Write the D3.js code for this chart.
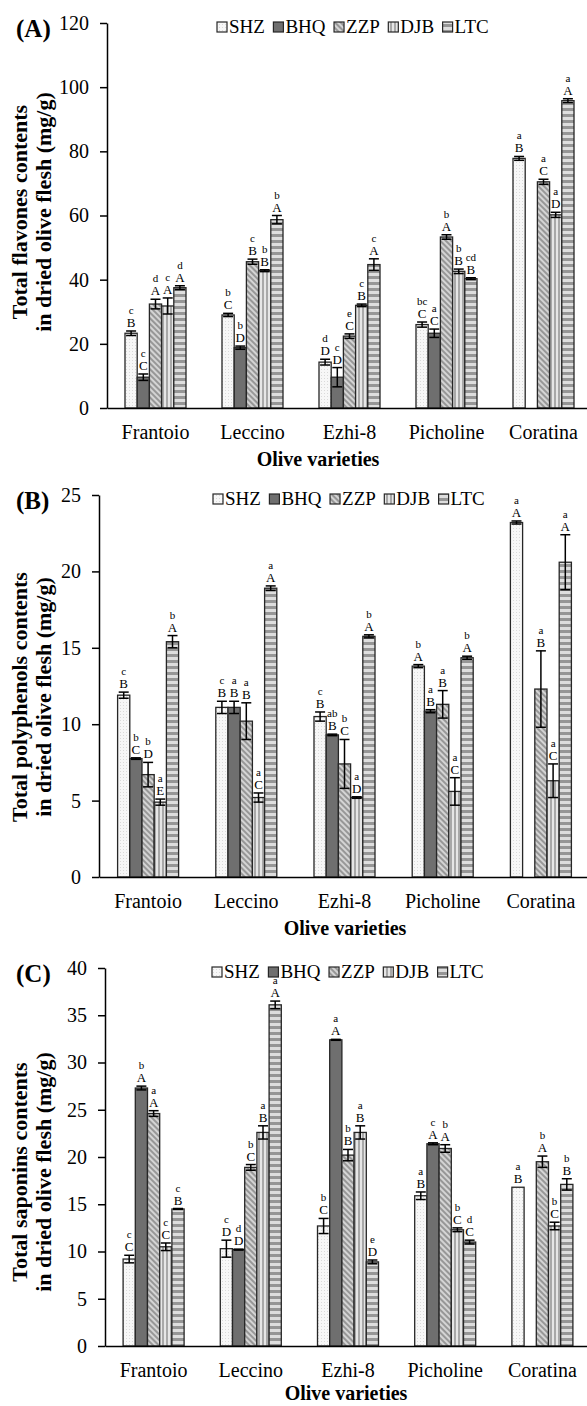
<!DOCTYPE html>
<html>
<head>
<meta charset="utf-8">
<script src="https://cdn.jsdelivr.net/npm/d3@7"></script>
<style>
  body { margin: 0; background: #fff; }
  text { font-family: "Liberation Serif", "Times New Roman", serif; }
</style>
</head>
<body>
<div id="chart"></div>
<script>
const varieties = ["Frantoio", "Leccino", "Ezhi-8", "Picholine", "Coratina"];
const cultivars = ["SHZ", "BHQ", "ZZP", "DJB", "LTC"];

// (A) flavones, rows = cultivars, columns = varieties
const flavonesMean = [
  [23.3, 29.0, 14.3, 26.0, 77.8],
  [9.6, 18.8, 9.6, 23.3, null],
  [32.4, 45.6, 22.4, 53.3, 70.5],
  [31.8, 42.8, 32.0, 42.6, 60.2],
  [37.5, 58.7, 44.7, 40.3, 95.8],
];
const flavonesErr = [
  [0.7, 0.5, 0.9, 0.8, 0.6],
  [1.0, 0.5, 3.0, 1.3, null],
  [1.5, 0.8, 0.7, 0.7, 0.8],
  [2.5, 0.3, 0.4, 0.7, 0.8],
  [0.6, 1.3, 1.8, 0.3, 0.6],
];
const flavonesLower = [
  ["c", "b", "d", "bc", "a"],
  ["c", "b", "c", "a", ""],
  ["d", "c", "e", "b", "a"],
  ["c", "b", "c", "b", "a"],
  ["d", "b", "c", "cd", "a"],
];
const flavonesUpper = [
  ["B", "C", "D", "C", "B"],
  ["C", "D", "D", "C", ""],
  ["A", "B", "C", "A", "C"],
  ["A", "B", "B", "B", "D"],
  ["A", "A", "A", "B", "A"],
];
const flavonesTicks = [0, 20, 40, 60, 80, 100, 120];

// (B) polyphenols
const polyMean = [
  [11.9, 11.1, 10.5, 13.8, 23.2],
  [7.75, 11.1, 9.3, 10.85, null],
  [6.7, 10.2, 7.4, 11.3, 12.3],
  [4.9, 5.2, 5.2, 5.6, 6.3],
  [15.4, 18.9, 15.75, 14.35, 20.6],
];
const polyErr = [
  [0.2, 0.4, 0.3, 0.1, 0.1],
  [0.05, 0.4, 0.05, 0.1, null],
  [0.8, 1.2, 1.6, 0.9, 2.5],
  [0.2, 0.3, 0.05, 0.9, 1.1],
  [0.4, 0.15, 0.1, 0.1, 1.8],
];
const polyLower = [
  ["c", "c", "c", "b", "a"],
  ["b", "a", "ab", "a", ""],
  ["b", "a", "b", "a", "a"],
  ["a", "a", "a", "a", "a"],
  ["b", "a", "b", "b", "a"],
];
const polyUpper = [
  ["B", "B", "B", "A", "A"],
  ["C", "B", "B", "B", ""],
  ["D", "B", "C", "B", "B"],
  ["E", "C", "D", "C", "C"],
  ["A", "A", "A", "A", "A"],
];
const polyTicks = [0, 5, 10, 15, 20, 25];

// (C) saponins
const saponinMean = [
  [9.2, 10.3, 12.7, 15.9, 16.8],
  [27.3, 10.2, 32.4, 21.4, null],
  [24.6, 18.9, 20.2, 20.9, 19.5],
  [10.5, 22.6, 22.6, 12.3, 12.7],
  [14.5, 36.1, 8.9, 11.0, 17.1],
];
const saponinErr = [
  [0.4, 0.9, 0.8, 0.4, 0],
  [0.2, 0.05, 0.05, 0.1, null],
  [0.3, 0.3, 0.6, 0.4, 0.6],
  [0.4, 0.7, 0.7, 0.2, 0.4],
  [0.05, 0.4, 0.2, 0.2, 0.6],
];
const saponinLower = [
  ["c", "c", "b", "a", "a"],
  ["b", "d", "a", "c", ""],
  ["a", "b", "b", "b", "b"],
  ["c", "a", "a", "b", "b"],
  ["c", "a", "e", "d", "b"],
];
const saponinUpper = [
  ["C", "D", "C", "B", "B"],
  ["A", "D", "A", "A", ""],
  ["A", "C", "B", "A", "A"],
  ["C", "B", "B", "C", "C"],
  ["B", "A", "D", "C", "B"],
];
const saponinTicks = [0, 5, 10, 15, 20, 25, 30, 35, 40];

const panels = [
  { label: "(A)", title: ["Total flavones contents", "in dried olive flesh (mg/g)"],
    mean: flavonesMean, err: flavonesErr, lower: flavonesLower, upper: flavonesUpper, ticks: flavonesTicks,
    left: 107, top: 23, bottom: 408, band: 97, legendX: 217, xTitleX: 318, xTitleDy: 58, titleY: 212 },
  { label: "(B)", title: ["Total polyphenols contents", "in dried olive flesh (mg/g)"],
    mean: polyMean, err: polyErr, lower: polyLower, upper: polyUpper, ticks: polyTicks,
    left: 99, top: 495, bottom: 877, band: 98.2, legendX: 213, xTitleX: 345, xTitleDy: 58, titleY: 697 },
  { label: "(C)", title: ["Total saponins contents", "in dried olive flesh (mg/g)"],
    mean: saponinMean, err: saponinErr, lower: saponinLower, upper: saponinUpper, ticks: saponinTicks,
    left: 105, top: 968, bottom: 1346, band: 97.2, legendX: 212, xTitleX: 346, xTitleDy: 54, titleY: 1172 },
];

const svg = d3.select("#chart").append("svg").attr("width", 587).attr("height", 1406);
const defs = svg.append("defs");

// fill patterns, one per cultivar
function pattern(id, w, h, rot) {
  const p = defs.append("pattern")
    .attr("id", id)
    .attr("patternUnits", "userSpaceOnUse")
    .attr("width", w)
    .attr("height", h);
  if (rot) p.attr("patternTransform", `rotate(${rot})`);
  return p;
}
let p = pattern("pSHZ", 3, 3);
p.append("rect").attr("width", 3).attr("height", 3).attr("fill", "#f7f7f7");
p.append("rect").attr("width", 1).attr("height", 1).attr("fill", "#dadada");
p = pattern("pZZP", 4, 4, -45);
p.append("rect").attr("width", 4).attr("height", 4).attr("fill", "#d4d4d4");
p.append("rect").attr("width", 2).attr("height", 4).attr("fill", "#979797");
p = pattern("pDJB", 4, 4);
p.append("rect").attr("width", 4).attr("height", 4).attr("fill", "#e6e6e6");
p.append("rect").attr("x", 2).attr("width", 2).attr("height", 4).attr("fill", "#a8a8a8");
p = pattern("pLTC", 6, 6);
p.append("rect").attr("width", 6).attr("height", 6).attr("fill", "#dedede");
p.append("rect").attr("width", 6).attr("height", 3).attr("fill", "#969696");

const fills = {
  SHZ: "url(#pSHZ)",
  BHQ: "#6f6f6f",
  ZZP: "url(#pZZP)",
  DJB: "url(#pDJB)",
  LTC: "url(#pLTC)",
};

function drawPanel(pn) {
  const x = d3.scaleBand().domain(varieties).range([pn.left, pn.left + 5 * pn.band]);
  const xs = d3.scaleBand().domain(cultivars).range([-30.5, 30.5]);
  const y = d3.scaleLinear()
    .domain([0, pn.ticks[pn.ticks.length - 1]])
    .range([pn.bottom, pn.top]);

  const g = svg.append("g");

  // bars
  cultivars.forEach((c, i) => {
    varieties.forEach((v, j) => {
      const m = pn.mean[i][j];
      if (m == null) return;
      const e = pn.err[i][j];
      const bx = x(v) + x.bandwidth() / 2 + xs(c);
      const cx = bx + xs.bandwidth() / 2;
      g.append("rect")
        .attr("x", bx)
        .attr("y", y(m))
        .attr("width", xs.bandwidth())
        .attr("height", y(0) - y(m))
        .attr("fill", fills[c])
        .attr("stroke", "#262626")
        .attr("stroke-width", 1.3);
      if (e > 0) {
        const eb = g.append("g").attr("stroke", "#000").attr("stroke-width", 1.5);
        eb.append("line").attr("x1", cx).attr("x2", cx).attr("y1", y(m - e)).attr("y2", y(m + e));
        eb.append("line").attr("x1", cx - 5).attr("x2", cx + 5).attr("y1", y(m - e)).attr("y2", y(m - e));
        eb.append("line").attr("x1", cx - 5).attr("x2", cx + 5).attr("y1", y(m + e)).attr("y2", y(m + e));
      }
      const ty = y(m + e) - 4;
      g.append("text")
        .attr("x", cx)
        .attr("y", ty)
        .attr("text-anchor", "middle")
        .attr("font-size", 13)
        .text(pn.upper[i][j]);
      g.append("text")
        .attr("x", cx)
        .attr("y", ty - 13)
        .attr("text-anchor", "middle")
        .attr("font-size", 11)
        .text(pn.lower[i][j]);
    });
  });

  // axes
  const ya = g.append("g")
    .attr("transform", `translate(${pn.left},0)`)
    .call(d3.axisLeft(y).tickValues(pn.ticks).tickSize(7).tickSizeOuter(0).tickPadding(11));
  ya.selectAll("text").attr("font-size", 20).attr("font-family", "Liberation Serif").attr("fill", "#000");
  ya.selectAll("line").attr("stroke-width", 1.5);
  ya.select(".domain").attr("stroke-width", 1.5);

  const xa = g.append("g")
    .attr("transform", `translate(0,${pn.bottom})`)
    .call(d3.axisBottom(x).tickSize(0).tickSizeOuter(0).tickPadding(17));
  xa.selectAll("text").attr("font-size", 20).attr("font-family", "Liberation Serif").attr("fill", "#000");
  xa.select(".domain").attr("stroke-width", 1.5);

  // axis titles
  g.append("text")
    .attr("x", pn.xTitleX)
    .attr("y", pn.bottom + pn.xTitleDy)
    .attr("text-anchor", "middle")
    .attr("font-size", 20)
    .attr("font-weight", "bold")
    .text("Olive varieties");

  pn.title.forEach((t, k) => {
    g.append("text")
      .attr("transform", `translate(${27 + k * 24},${pn.titleY}) rotate(-90)`)
      .attr("text-anchor", "middle")
      .attr("font-size", 22)
      .attr("font-weight", "bold")
      .text(t);
  });

  g.append("text")
    .attr("x", 16)
    .attr("y", pn.top + 14)
    .attr("font-size", 25)
    .attr("font-weight", "bold")
    .text(pn.label);

  // legend
  let lx = pn.legendX;
  cultivars.forEach((c) => {
    g.append("rect")
      .attr("x", lx)
      .attr("y", pn.top - 1)
      .attr("width", 10)
      .attr("height", 10)
      .attr("fill", fills[c])
      .attr("stroke", "#262626")
      .attr("stroke-width", 1.2);
    const t = g.append("text")
      .attr("x", lx + 12)
      .attr("y", pn.top + 10)
      .attr("font-size", 19)
      .text(c);
    lx += 12 + t.node().getComputedTextLength() + 8.5;
  });
}

panels.forEach(drawPanel);
</script>
</body>
</html>
